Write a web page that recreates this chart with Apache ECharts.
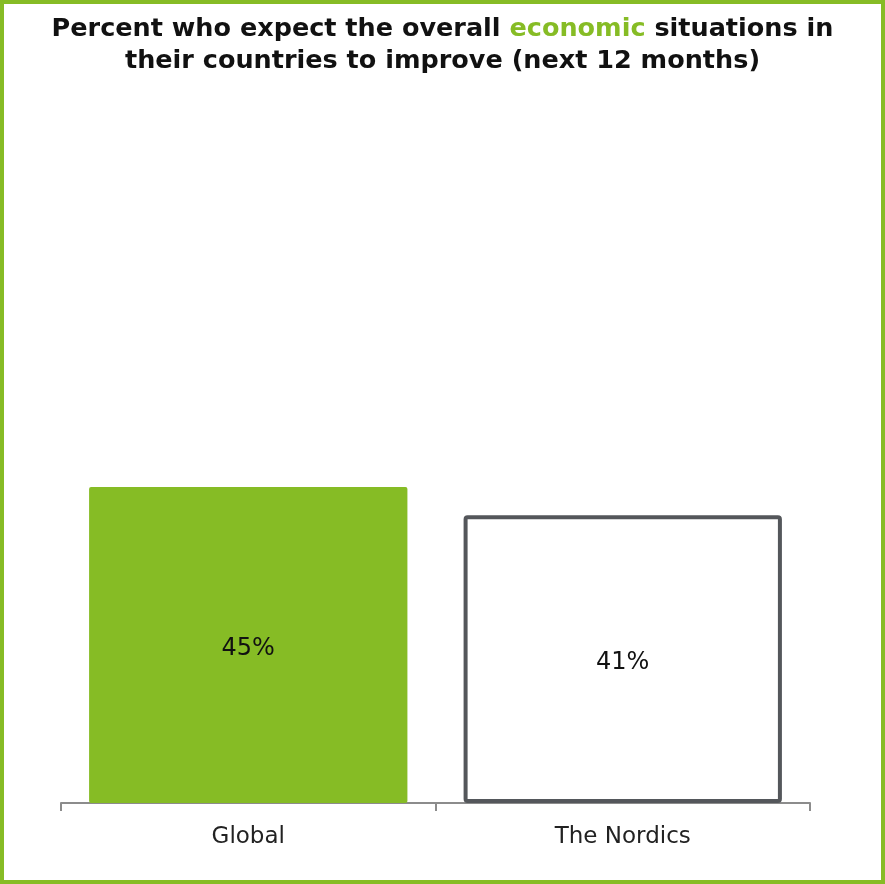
<!DOCTYPE html>
<html>
<head>
<meta charset="utf-8">
<script src="https://cdn.jsdelivr.net/npm/echarts@6/dist/echarts.min.js"></script>
<style>
  html, body { margin: 0; padding: 0; background: #fff; }
  #chart { width: 885px; height: 884px; }
</style>
</head>
<body>
<div id="chart"></div>
<script>
// Survey share expecting improvement, by region
const categories = ['Global', 'The Nordics'];
const values = [45, 41];
const valueSuffix = '%';

const GREEN = '#86bc25';
const DARK = '#54575b';
const FONT = '"DejaVu Sans", Verdana, sans-serif';

const barStyles = [
  { color: GREEN, borderRadius: 2 },
  { color: '#ffffff', borderColor: DARK, borderWidth: 4, borderRadius: 2 }
];

const chart = echarts.init(document.getElementById('chart'));
chart.setOption({
  backgroundColor: '#ffffff',
  animation: false,
  title: {
    left: 'center',
    top: 8,
    text: '{b|Percent who expect the overall }{g|economic}{b| situations in}\n{b|their countries to improve (next 12 months)}',
    textStyle: {
      fontFamily: FONT,
      lineHeight: 32,
      rich: {
        b: { fontFamily: FONT, fontSize: 25.5, fontWeight: 'bold', color: '#111111', lineHeight: 32 },
        g: { fontFamily: FONT, fontSize: 25.5, fontWeight: 'bold', color: GREEN, lineHeight: 32 }
      }
    }
  },
  grid: { left: 61, right: 75, top: 101, bottom: 81 },
  xAxis: {
    type: 'category',
    data: categories,
    axisLine: { lineStyle: { color: '#8c8c8c', width: 2 } },
    axisTick: { show: true, length: 8, lineStyle: { color: '#8c8c8c', width: 2 } },
    axisLabel: { fontFamily: FONT, fontSize: 23, color: '#222222', margin: 23 }
  },
  yAxis: {
    type: 'value',
    min: 0,
    max: 100,
    show: false
  },
  series: [{
    type: 'bar',
    barWidth: '85%',
    data: values.map((v, i) => ({ value: v, itemStyle: barStyles[i] })),
    label: {
      show: true,
      position: 'inside',
      offset: [0, 4],
      fontFamily: FONT,
      fontSize: 24,
      color: '#111111',
      formatter: p => p.value + valueSuffix
    },
    z: 1
  }],
  graphic: [{
    type: 'rect',
    shape: { x: 2, y: 2, width: 881, height: 880 },
    style: { fill: 'none', stroke: GREEN, lineWidth: 4 },
    z: 100
  }]
});
</script>
</body>
</html>
